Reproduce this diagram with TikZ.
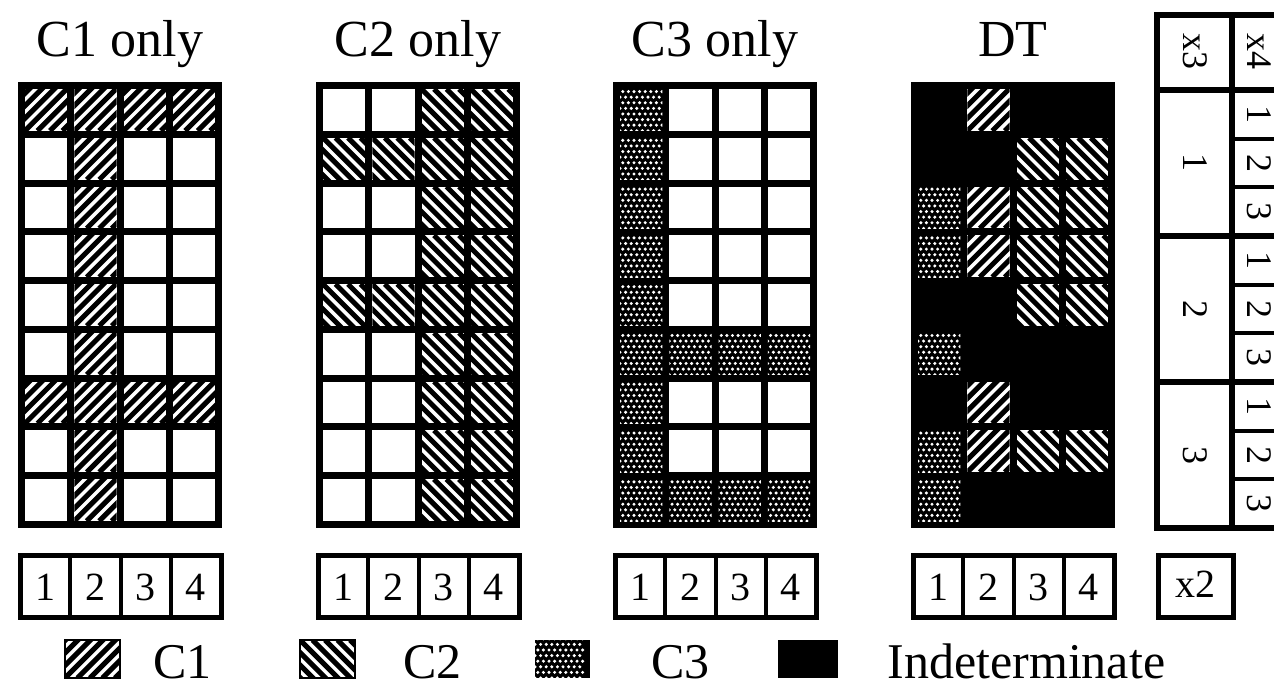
\documentclass[tikz,border=0pt]{standalone}
\usepackage{fontspec}
\setmainfont{Liberation Serif}
\usetikzlibrary{calc}

\begin{document}
\begin{tikzpicture}[
    x=1pt, y=-1pt,
    %% ── Cell kinds (w = empty, a = C1, b = C2, c = C3, k = indeterminate) ──
    kind/w/.style={fill=white},
    kind/k/.style={fill=black},
    kind/a/.style={fill=white, path picture={
        \foreach \k in {-5,...,5}
            \draw[line width=5pt]
                ($(path picture bounding box.south west)+(\k*12.5pt,0)$) -- ++(60pt,60pt);}},
    kind/b/.style={fill=white, path picture={
        \foreach \k in {-5,...,5}
            \draw[line width=5pt]
                ($(path picture bounding box.north west)+(\k*12.5pt,0)$) -- ++(60pt,-60pt);}},
    kind/c/.style={fill=black, path picture={
        \foreach \i in {0,...,8}
            \foreach \j in {0,...,8}
                \fill[white] ($(path picture bounding box.south west)+({\i*5.6pt+mod(\j,2)*2.8pt},\j*5.6pt)$) circle (1.7pt);}},
    %% ── Text styles ──
    title/.style={font=\fontsize{52}{56}\selectfont, anchor=base},
    digit/.style={font=\fontsize{40}{44}\selectfont},
    keytxt/.style={font=\fontsize{36}{40}\selectfont, rotate=-90},
    legend/.style={font=\fontsize{50}{54}\selectfont, anchor=base west},
    %% ── Lines ──
    numbox/.style={draw, line width=5pt},
    thin/.style={line width=4pt},
    keyline/.style={line width=5.5pt},
]
\useasboundingbox (0,0) rectangle (1274,687);

% ── Titles ──
\node[title] (t1) at (120, 57) {C1 only};
\node[title] (t2) at (418, 57) {C2 only};
\node[title] (t3) at (715, 57) {C3 only};
\node[title] (t4) at (1013,57) {DT};

% ── Grid 1 · C1 only ──
\fill (18,82) rectangle ++(204,446);
\foreach \r/\p/\q/\s/\t in {1/a/a/a/a, 2/w/a/w/w, 3/w/a/w/w, 4/w/a/w/w, 5/w/a/w/w,
                            6/w/a/w/w, 7/a/a/a/a, 8/w/a/w/w, 9/w/a/w/w}
    \foreach \c/\m in {1/\p, 2/\q, 3/\s, 4/\t}
        \path[kind/\m] ({25+(\c-1)*49.25}, {89+(\r-1)*48.78}) rectangle ++(42.25,41.78);

% ── Grid 2 · C2 only ──
\fill (316,82) rectangle ++(204,446);
\foreach \r/\p/\q/\s/\t in {1/w/w/b/b, 2/b/b/b/b, 3/w/w/b/b, 4/w/w/b/b, 5/b/b/b/b,
                            6/w/w/b/b, 7/w/w/b/b, 8/w/w/b/b, 9/w/w/b/b}
    \foreach \c/\m in {1/\p, 2/\q, 3/\s, 4/\t}
        \path[kind/\m] ({323+(\c-1)*49.25}, {89+(\r-1)*48.78}) rectangle ++(42.25,41.78);

% ── Grid 3 · C3 only ──
\fill (613,82) rectangle ++(204,446);
\foreach \r/\p/\q/\s/\t in {1/c/w/w/w, 2/c/w/w/w, 3/c/w/w/w, 4/c/w/w/w, 5/c/w/w/w,
                            6/c/c/c/c, 7/c/w/w/w, 8/c/w/w/w, 9/c/c/c/c}
    \foreach \c/\m in {1/\p, 2/\q, 3/\s, 4/\t}
        \path[kind/\m] ({620+(\c-1)*49.25}, {89+(\r-1)*48.78}) rectangle ++(42.25,41.78);

% ── Grid 4 · DT ──
\fill (911,82) rectangle ++(204,446);
\foreach \r/\p/\q/\s/\t in {1/k/a/k/k, 2/k/k/b/b, 3/c/a/b/b, 4/c/a/b/b, 5/k/k/b/b,
                            6/c/k/k/k, 7/k/a/k/k, 8/c/a/b/b, 9/c/k/k/k}
    \foreach \c/\m in {1/\p, 2/\q, 3/\s, 4/\t}
        \path[kind/\m] ({918+(\c-1)*49.25}, {89+(\r-1)*48.78}) rectangle ++(42.25,41.78);

% ── Number rows under the grids ──
\foreach \g/\gx in {1/20, 2/318, 3/615, 4/913} {
    \draw[numbox] (\gx,555) rectangle ++(201,62);
    \foreach \c in {1,2,3}
        \draw[thin] ({\gx+\c*50.25},555) -- ++(0,62);
    \foreach \c in {1,...,4}
        \node[digit] (num\g\c) at ({\gx+(\c-0.5)*50.25},587) {\c};
}
\draw[numbox] (1158,555) rectangle (1233,617);
\node[digit] (x2) at (1195.5,584) {x2};

% ── Key for x3 / x4 ──
\draw[keyline] (1157,15) rectangle (1290,528);
\draw[keyline] (1157,90) -- (1290,90);
\draw[keyline] (1232,15) -- (1232,528);
\draw[keyline] (1157,236) -- (1290,236);
\draw[keyline] (1157,382) -- (1290,382);
\foreach \k in {1,2,4,5,7,8}
    \draw[thin] (1232,{90+\k*48.67}) -- (1290,{90+\k*48.67});
\node[keytxt] (x3) at (1195,52) {x3};
\node[keytxt] (x4) at (1259,52) {x4};
\foreach \v in {1,2,3} {
    \node[keytxt] (kx3\v) at (1195,{90+(\v-0.5)*146}) {\v};
    \foreach \w in {1,2,3}
        \node[keytxt] (kx4\v\w) at (1259,{90+(\v-1)*146+(\w-0.5)*48.67}) {\w};
}

% ── Legend ──
\path[kind/a, draw, line width=2pt] (65,640) rectangle ++(55,38);
\node[legend] (lc1) at (150,678) {C1};
\path[kind/b, draw, line width=2pt] (300,640) rectangle ++(55,38);
\node[legend] (lc2) at (400,678) {C2};
\path[kind/c] (535,640) rectangle ++(55,38);
\node[legend] (lc3) at (648,678) {C3};
\path[kind/k] (778,640) rectangle ++(60,38);
\node[legend] (lind) at (884,678) {Indeterminate};

\end{tikzpicture}
\end{document}
